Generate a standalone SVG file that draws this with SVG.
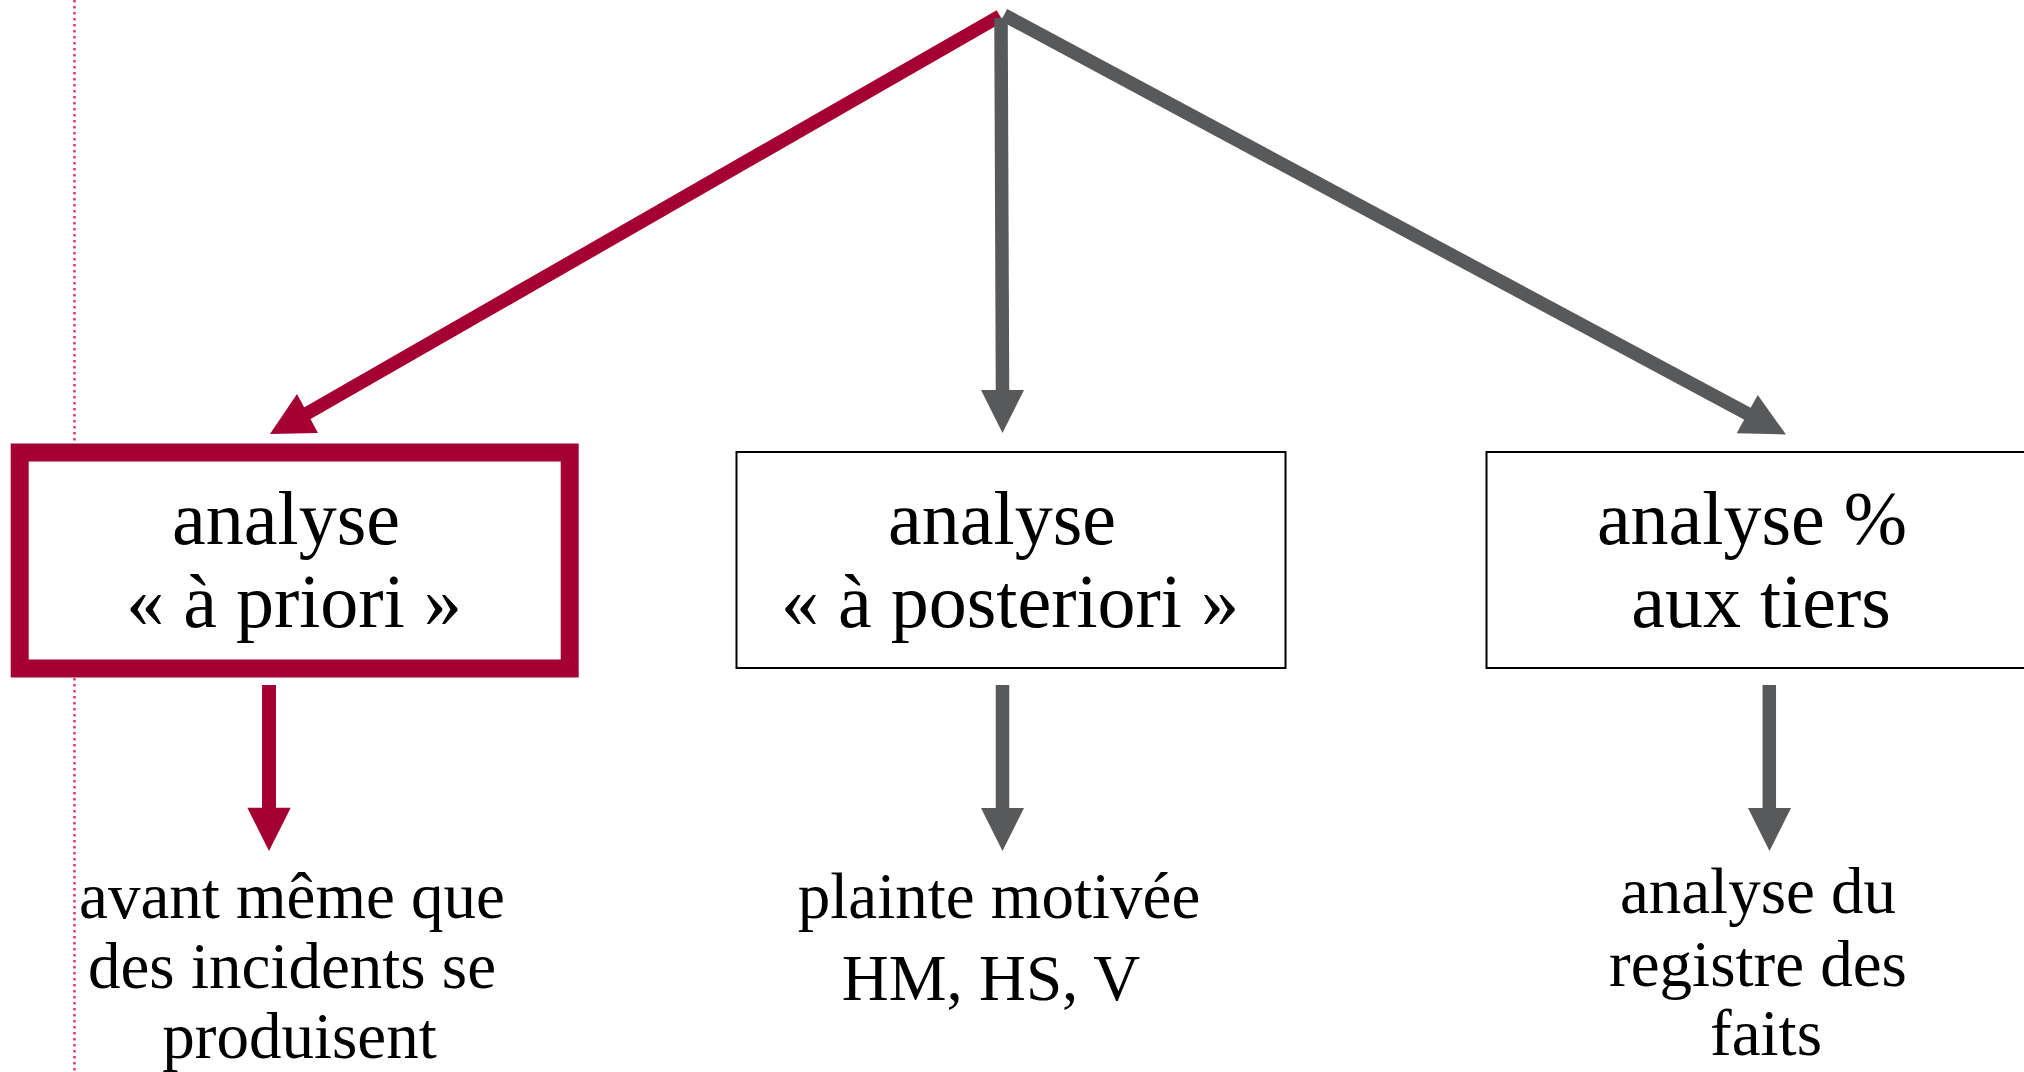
<svg xmlns="http://www.w3.org/2000/svg" width="2024" height="1072" viewBox="0 0 2024 1072">
<style>
.bg{fill:#ffffff}
.guide{stroke:#dc3c64;stroke-width:2.5;stroke-dasharray:2.5 3.5;fill:none}
.box{fill:#ffffff;stroke:#000000;stroke-width:2}
.boxred{fill:#ffffff;stroke:#a50034;stroke-width:18}
.t{font-family:"Liberation Serif","Times New Roman",serif;fill:#000000;text-anchor:middle}
.big{font-size:76px}
.small{font-size:65px}
.lred{stroke:#a50034;fill:none;stroke-width:13.5}
.lgray{stroke:#58595b;fill:none;stroke-width:13.5}
.lredv{stroke:#a50034;fill:none;stroke-width:14}
.lgrayv{stroke:#58595b;fill:none;stroke-width:13.5}
.hred{fill:#a50034}
.hgray{fill:#58595b}
</style>
<rect class="bg" x="0" y="0" width="2024" height="1072"/>
<line class="guide" x1="74.5" y1="0" x2="74.5" y2="1072"/>
<g id="connectors">
  <line class="lred" x1="1000" y1="16" x2="306" y2="414"/>
  <polygon class="hred" points="270,434 297,394 318,433"/>
  <line class="lgrayv" x1="1001" y1="18" x2="1002.5" y2="392"/>
  <polygon class="hgray" points="981,390 1024,390 1002.5,433"/>
  <line class="lgray" x1="1004" y1="15" x2="1748" y2="414"/>
  <polygon class="hgray" points="1786,434.5 1757.7,395 1736.7,433.3"/>
  <line class="lredv" x1="269" y1="685" x2="269" y2="810"/>
  <polygon class="hred" points="247.3,807.7 290.7,807.7 269,851"/>
  <line class="lgrayv" x1="1002.5" y1="685" x2="1002.5" y2="810"/>
  <polygon class="hgray" points="981,808 1024,808 1002.5,851"/>
  <line class="lgrayv" x1="1769.3" y1="685" x2="1769.3" y2="810"/>
  <polygon class="hgray" points="1748,808 1791,808 1769.5,851"/>
</g>
<g id="node-a-priori">
  <rect class="boxred" x="19.7" y="452.5" width="550" height="216"/>
  <text class="t big" x="286" y="544">analyse</text>
  <text class="t big" x="294" y="626.5">« à priori »</text>
</g>
<g id="node-a-posteriori">
  <rect class="box" x="736.5" y="452" width="549" height="216"/>
  <text class="t big" x="1002" y="544">analyse</text>
  <text class="t big" x="1010" y="626.5">« à posteriori »</text>
</g>
<g id="node-tiers">
  <rect class="box" x="1486.5" y="452" width="560" height="216"/>
  <text class="t big" x="1752" y="544">analyse %</text>
  <text class="t big" x="1761" y="626.5">aux tiers</text>
</g>
<g id="label-avant">
  <text class="t small" x="292" y="918">avant même que</text>
  <text class="t small" x="292" y="988">des incidents se</text>
  <text class="t small" x="299.5" y="1058">produisent</text>
</g>
<g id="label-plainte">
  <text class="t small" x="999" y="918">plainte motivée</text>
  <text class="t small" x="991" y="1000">HM, HS, V</text>
</g>
<g id="label-registre">
  <text class="t small" x="1758" y="913">analyse du</text>
  <text class="t small" x="1758" y="986">registre des</text>
  <text class="t small" x="1766" y="1055">faits</text>
</g>
</svg>
